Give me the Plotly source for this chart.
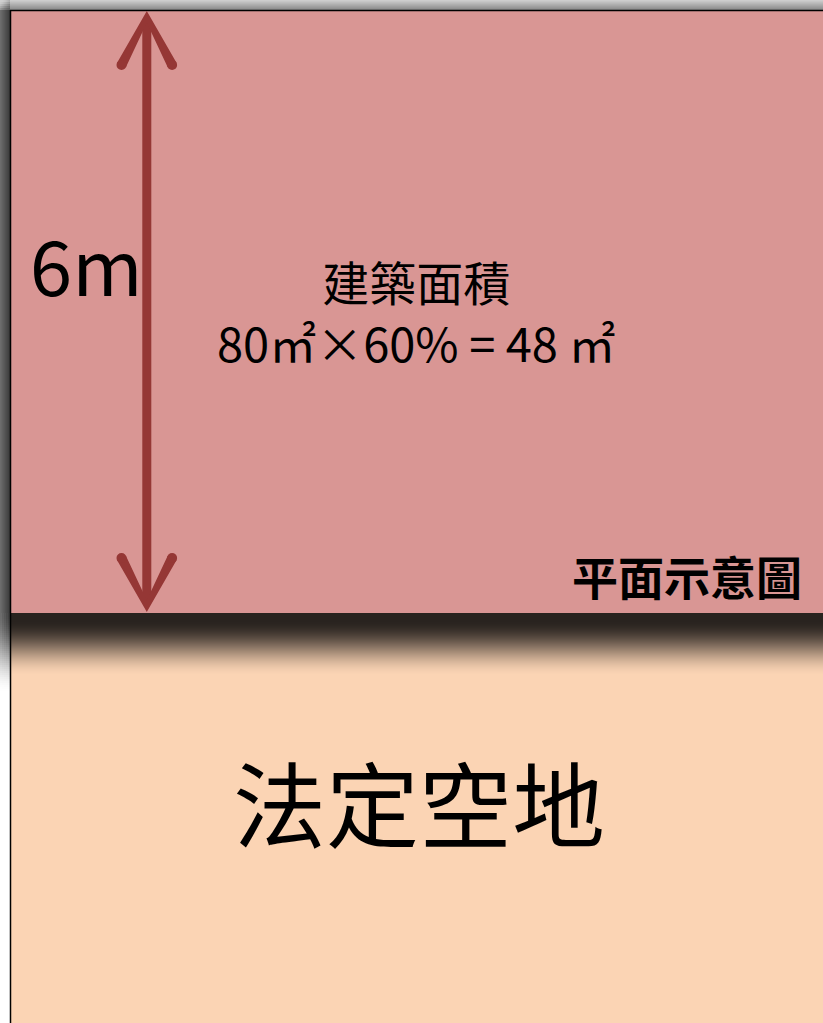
import plotly.graph_objects as go
import math

# ---- content ----
dimension_label = "6m"
area_title = "建築面積"
area_formula = "80㎡×60% = 48 ㎡"
plan_label = "平面示意圖"
open_space_label = "法定空地"

# ---- colours ----
PINK = "#d99694"
PEACH = "#fbd4b4"
ARROW = "#953735"
FONT = "Noto Sans CJK TC"

W, H = 823, 1023
BOX_L, BOX_T, BOX_B = 10, 10, 613
ARROW_X = 146.8

def hexmix(c1, c2, t):
    a = [int(c1[i:i + 2], 16) for i in (1, 3, 5)]
    b = [int(c2[i:i + 2], 16) for i in (1, 3, 5)]
    return "#%02x%02x%02x" % tuple(round(a[k] + (b[k] - a[k]) * t) for k in range(3))

def smooth(t):
    t = max(0.0, min(1.0, t))
    return t * t * (3 - 2 * t)

shapes = []

def rect(x0, y0, x1, y1, color):
    shapes.append(dict(type="rect", xref="x", yref="y", x0=x0, x1=x1, y0=y0, y1=y1,
                       fillcolor=color, line=dict(width=0), layer="above"))

# top shadow strip
for i in range(BOX_T):
    rect(0, i, W, i + 1, hexmix("#cdcdcd", "#8a8a8a", i / (BOX_T - 1)))
# left shadow strip
for j in range(BOX_L):
    rect(j, BOX_T, j + 1, BOX_B, hexmix("#6c6c6c", "#3c3c3c", j / (BOX_L - 1)))
# top-left corner blend
for j in range(BOX_L):
    for i in range(0, BOX_T, 2):
        rect(j, i, j + 1, i + 2, hexmix("#d0d0d0", "#5a5a5a", smooth((i / BOX_T) * 0.6 + (j / BOX_L) * 0.4)))
# left shadow fade below the box
for j in range(0, BOX_L, 2):
    base = hexmix("#6c6c6c", "#3c3c3c", j / (BOX_L - 1))
    for y in range(BOX_B, 700, 2):
        t = smooth((y - BOX_B) / 80.0)
        rect(j, y, j + 2, y + 2, hexmix(base, "#ffffff", t))
rect(0, 700, BOX_L, H, "#ffffff")

# main boxes
rect(BOX_L, BOX_T, W + 5, BOX_B, PINK)
rect(BOX_L, BOX_B, W + 5, H + 5, PEACH)
# shadow on peach below pink box
for y in range(BOX_B, 674):
    t = smooth((y - BOX_B - 7) / 56.0)
    rect(BOX_L, y, W + 5, y + 1, hexmix("#29231f", PEACH, t))

# borders
shapes.append(dict(type="line", xref="x", yref="y", x0=BOX_L, x1=W + 5, y0=BOX_T + 0.5, y1=BOX_T + 0.5,
                   line=dict(color="#000000", width=1.5), layer="above"))
shapes.append(dict(type="line", xref="x", yref="y", x0=BOX_L + 0.5, x1=BOX_L + 0.5, y0=BOX_T, y1=H + 5,
                   line=dict(color="#000000", width=1.5), layer="above"))

# double-headed arrow
SHAFT_W = 9
ARM_W = 10
TIP_T, TIP_B = 11, 612
ARM_DX, ARM_DY = 25.3, 54

rect(ARROW_X - SHAFT_W / 2, TIP_T + 10, ARROW_X + SHAFT_W / 2, TIP_B - 10, ARROW)

def chevron(tip_y, sgn):
    dx, dy = ARM_DX, ARM_DY * sgn
    L = math.hypot(dx, dy)
    hw = ARM_W / 2
    ex_l, ex_r = ARROW_X - dx, ARROW_X + dx
    ey = tip_y + dy
    nx, ny = abs(dy) / L * hw, dx / L * hw
    lo = (ex_l - nx, ey - sgn * ny)
    li = (ex_l + nx, ey + sgn * ny)
    ro = (ex_r + nx, ey - sgn * ny)
    ri = (ex_r - nx, ey + sgn * ny)
    inner_y = li[1] - (dy / dx) * (ARROW_X - li[0])
    path = "M %.2f,%.2f L %.2f,%.2f L %.2f,%.2f L %.2f,%.2f L %.2f,%.2f L %.2f,%.2f Z" % (
        ARROW_X, tip_y, lo[0], lo[1], li[0], li[1], ARROW_X, inner_y, ri[0], ri[1], ro[0], ro[1])
    shapes.append(dict(type="path", xref="x", yref="y", path=path, fillcolor=ARROW,
                       line=dict(width=0), layer="above"))
    for cx in (ex_l, ex_r):
        shapes.append(dict(type="circle", xref="x", yref="y", x0=cx - hw, x1=cx + hw,
                           y0=ey - hw, y1=ey + hw, fillcolor=ARROW, line=dict(width=0), layer="above"))

chevron(TIP_T, 1)
chevron(TIP_B, -1)

annotations = [
    dict(text=dimension_label, x=86, y=263, font=dict(size=76, color="#000000", family=FONT)),
    dict(text=area_title + "<br>" + area_formula, x=416, y=311,
         font=dict(size=47, color="#000000", family=FONT)),
    dict(text="<b>" + plan_label + "</b>", x=804, y=575, xanchor="right",
         font=dict(size=46, color="#000000", family=FONT)),
    dict(text=open_space_label, x=419, y=800, font=dict(size=93, color="#000000", family=FONT)),
]
for a in annotations:
    a.update(xref="x", yref="y", showarrow=False)
    a.setdefault("xanchor", "center")
    a.setdefault("yanchor", "middle")

fig = go.Figure()
fig.update_layout(
    width=W, height=H,
    margin=dict(l=0, r=0, t=0, b=0),
    paper_bgcolor="#ffffff", plot_bgcolor="#ffffff",
    xaxis=dict(range=[0, W], visible=False, fixedrange=True),
    yaxis=dict(range=[H, 0], visible=False, fixedrange=True),
    shapes=shapes,
    annotations=annotations,
    showlegend=False,
)
fig.write_html("out.html", config={"displayModeBar": False},
               post_script="document.body.style.margin='0';document.body.style.overflow='hidden';")
